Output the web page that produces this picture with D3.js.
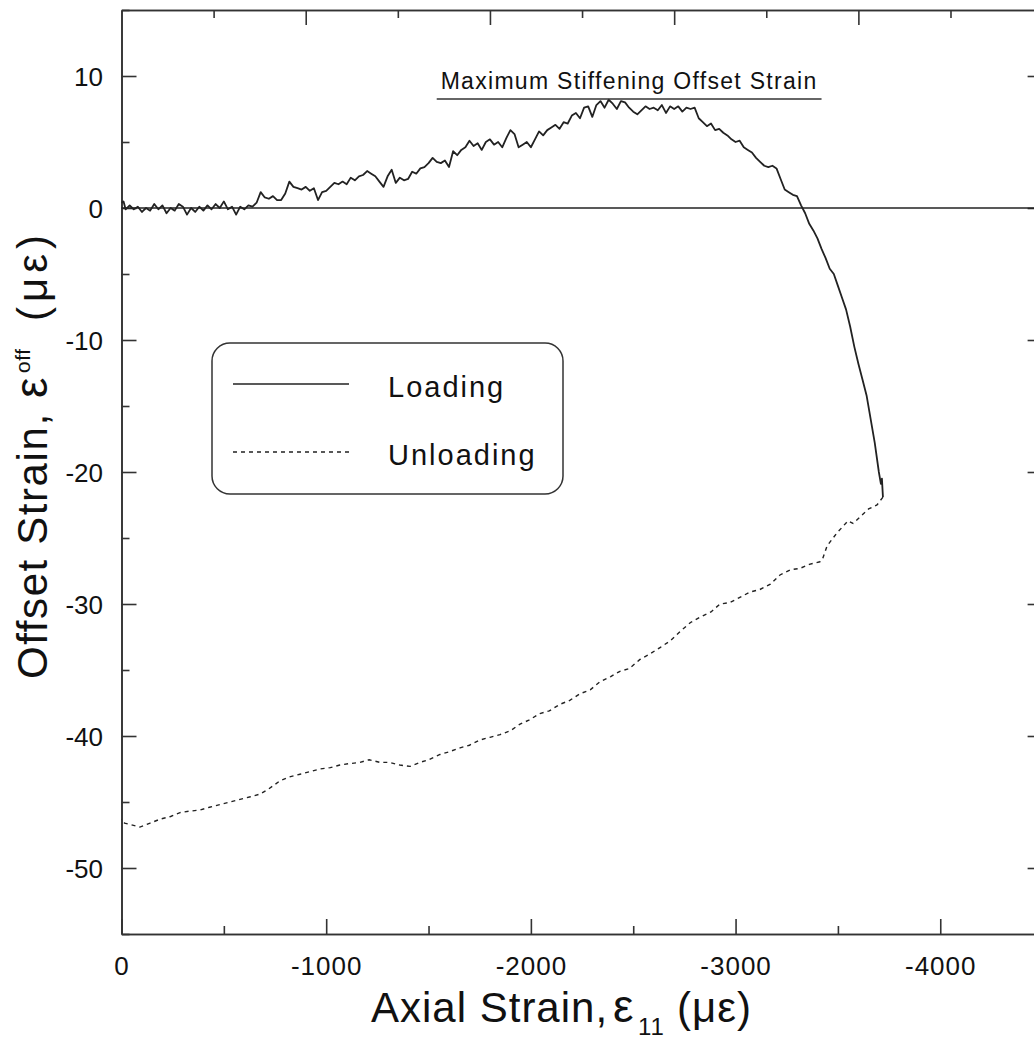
<!DOCTYPE html>
<html><head><meta charset="utf-8">
<script src="https://cdn.jsdelivr.net/npm/d3@7"></script>
<style>body{margin:0;background:#fff}svg{display:block;font-family:"Liberation Sans",Arial,sans-serif}</style>
</head><body><svg id="c" width="1034" height="1040"></svg>
<script>
const xTicksMajor=[0,-1000,-2000,-3000,-4000];
const xTicksMinor=[-500,-1500,-2500,-3500,-4500];
const yTicksMajor=[10,0,-10,-20,-30,-40,-50];
const yTicksMinor=[15,5,-5,-15,-25,-35,-45,-55];
const topTicksMajor=[1,2,3,4];
const topTicksMinor=[0.5,1.5,2.5,3.5,4.5];
const seriesNames=["Loading","Unloading"];
const annotationText="Maximum Stiffening Offset Strain";
const annotationLine=[[-1540,8.25],[-3420,8.25]];
const loading=[[0,0.4],[-10,0.5],[-20,-0.1],[-40,0.2],[-60,-0.1],[-80,0.1],[-100,-0.3],[-120,0.0],[-140,-0.2],[-160,0.3],[-180,-0.1],[-200,0.2],[-220,-0.4],[-240,0.0],[-260,-0.2],[-280,0.3],[-300,0.1],[-320,-0.5],[-340,0.0],[-360,-0.3],[-380,0.1],[-400,-0.2],[-420,0.2],[-440,-0.1],[-460,0.3],[-480,0.0],[-500,0.5],[-520,-0.1],[-540,0.1],[-560,-0.5],[-580,0.1],[-600,-0.1],[-620,0.2],[-640,0.1],[-660,0.4],[-680,1.2],[-700,0.8],[-720,0.7],[-740,0.9],[-760,0.6],[-780,0.6],[-800,1.1],[-820,2.0],[-840,1.6],[-860,1.5],[-880,1.4],[-900,1.6],[-920,1.3],[-940,1.5],[-960,0.6],[-980,1.2],[-1000,1.3],[-1020,1.6],[-1040,1.9],[-1060,1.8],[-1080,2.0],[-1100,1.8],[-1120,2.3],[-1140,2.1],[-1160,2.4],[-1180,2.5],[-1200,2.8],[-1220,2.6],[-1240,2.4],[-1260,2.0],[-1280,1.6],[-1300,2.4],[-1320,2.9],[-1340,1.9],[-1360,2.3],[-1380,2.1],[-1400,2.2],[-1420,2.75],[-1440,2.6],[-1460,3.0],[-1480,3.1],[-1500,3.4],[-1520,3.8],[-1540,3.5],[-1560,3.4],[-1580,3.6],[-1600,3.1],[-1620,4.3],[-1640,4.0],[-1660,4.4],[-1680,4.6],[-1700,5.1],[-1720,4.7],[-1740,4.9],[-1760,4.4],[-1780,5.0],[-1800,5.2],[-1820,4.8],[-1840,5.0],[-1860,4.6],[-1880,5.3],[-1900,5.9],[-1920,5.6],[-1940,4.6],[-1960,4.8],[-1980,5.0],[-2000,4.6],[-2020,5.2],[-2040,5.8],[-2060,5.5],[-2080,5.9],[-2100,6.1],[-2120,6.3],[-2140,6.0],[-2160,6.5],[-2180,6.4],[-2200,7.0],[-2220,7.2],[-2240,6.8],[-2260,7.6],[-2280,7.7],[-2300,6.9],[-2320,7.8],[-2340,8.1],[-2360,7.6],[-2380,8.2],[-2400,7.9],[-2420,7.5],[-2440,8.1],[-2460,8.0],[-2480,7.6],[-2500,7.3],[-2520,7.1],[-2540,7.4],[-2560,7.7],[-2580,7.5],[-2600,7.6],[-2620,7.4],[-2640,7.8],[-2660,7.2],[-2680,7.7],[-2700,7.5],[-2720,7.7],[-2740,7.3],[-2760,7.6],[-2780,7.5],[-2800,7.6],[-2820,6.8],[-2840,6.5],[-2860,6.2],[-2880,6.4],[-2900,5.9],[-2920,6.0],[-2940,5.7],[-2960,5.5],[-2980,5.2],[-3000,5.0],[-3020,5.1],[-3040,4.6],[-3060,4.4],[-3080,4.2],[-3100,3.8],[-3120,3.5],[-3140,3.2],[-3160,3.1],[-3180,3.2],[-3200,3.0],[-3220,2.2],[-3240,1.4],[-3260,1.2],[-3280,1.0],[-3300,0.9],[-3320,0.2],[-3340,-0.4],[-3360,-1.2],[-3380,-1.7],[-3400,-2.3],[-3420,-3.1],[-3440,-3.8],[-3460,-4.6],[-3480,-5.0],[-3500,-5.9],[-3520,-6.8],[-3540,-7.7],[-3560,-9.0],[-3580,-10.5],[-3600,-11.8],[-3620,-13.0],[-3640,-14.2],[-3660,-16.0],[-3680,-17.8],[-3700,-20.0],[-3710,-20.9],[-3715,-20.5],[-3720,-21.9]];
const unloading=[[-3720,-21.9],[-3691,-22.5],[-3650,-22.8],[-3622,-23.2],[-3574,-23.9],[-3549,-23.7],[-3520,-24.2],[-3496,-24.6],[-3447,-25.6],[-3425,-26.6],[-3412,-26.8],[-3360,-27.0],[-3315,-27.3],[-3270,-27.4],[-3217,-27.8],[-3170,-28.5],[-3119,-28.9],[-3070,-29.1],[-3021,-29.5],[-2970,-29.9],[-2924,-30.0],[-2880,-30.6],[-2826,-31.0],[-2780,-31.4],[-2728,-32.1],[-2680,-32.8],[-2631,-33.3],[-2580,-33.8],[-2533,-34.2],[-2480,-34.9],[-2435,-35.1],[-2390,-35.5],[-2337,-35.9],[-2290,-36.5],[-2240,-36.8],[-2190,-37.3],[-2142,-37.6],[-2090,-38.1],[-2044,-38.3],[-1990,-38.8],[-1947,-39.1],[-1900,-39.6],[-1849,-39.9],[-1800,-40.1],[-1751,-40.3],[-1700,-40.7],[-1654,-40.9],[-1600,-41.2],[-1556,-41.4],[-1500,-41.8],[-1458,-42.0],[-1410,-42.3],[-1360,-42.2],[-1310,-42.0],[-1263,-42.0],[-1210,-41.8],[-1165,-42.0],[-1110,-42.1],[-1067,-42.2],[-1020,-42.4],[-970,-42.5],[-920,-42.7],[-872,-42.9],[-820,-43.1],[-774,-43.4],[-720,-44.0],[-677,-44.4],[-630,-44.6],[-579,-44.8],[-530,-45.0],[-481,-45.2],[-430,-45.4],[-384,-45.6],[-330,-45.7],[-286,-45.8],[-240,-46.1],[-188,-46.3],[-140,-46.6],[-90,-46.9],[-42,-46.7],[-15,-46.6],[0,-46.3]];

const svg=d3.select("#c");
const ink="#222", axc="#333";
const x=d3.scaleLinear().domain([0,-4500]).range([121.5,1042.6]);
const y=d3.scaleLinear().domain([-55,15]).range([934,10]);
const xt=d3.scaleLinear().domain([0,5]).range(x.range());
const [L,R]=x.range(), [B,T]=y.range();
const fmt=d=>String(d);

function styleAxis(g){g.select(".domain").attr("stroke",axc).attr("stroke-width",1.6);g.selectAll(".tick line").attr("stroke",axc).attr("stroke-width",1.6);g.selectAll("text").attr("fill","#111");}

// bottom
svg.append("g").attr("transform",`translate(0,${B})`).call(d3.axisBottom(x).tickValues(xTicksMajor).tickSize(-15).tickSizeOuter(0).tickPadding(22.5).tickFormat(fmt))
 .call(styleAxis).call(g=>g.selectAll("text").attr("font-size",26).attr("letter-spacing","1px").attr("font-family","Liberation Sans, Arial"));
svg.append("g").attr("transform",`translate(0,${B})`).call(d3.axisBottom(x).tickValues(xTicksMinor).tickSize(-8).tickSizeOuter(0).tickFormat("")).call(styleAxis);
// top
svg.append("g").attr("transform",`translate(0,${T})`).call(d3.axisTop(xt).tickValues(topTicksMajor).tickSize(-15).tickSizeOuter(0).tickFormat("")).call(styleAxis);
svg.append("g").attr("transform",`translate(0,${T})`).call(d3.axisTop(xt).tickValues(topTicksMinor).tickSize(-8).tickSizeOuter(0).tickFormat("")).call(styleAxis);
// left
svg.append("g").attr("transform",`translate(${L},0)`).call(d3.axisLeft(y).tickValues(yTicksMajor).tickSize(-15).tickSizeOuter(0).tickPadding(18.5).tickFormat(fmt))
 .call(styleAxis).call(g=>g.selectAll("text").attr("font-size",26).attr("dy","0.37em").attr("font-family","Liberation Sans, Arial"));
svg.append("g").attr("transform",`translate(${L},0)`).call(d3.axisLeft(y).tickValues(yTicksMinor).tickSize(-8).tickSizeOuter(0).tickFormat("")).call(styleAxis);
// right
svg.append("g").attr("transform",`translate(${R},0)`).call(d3.axisRight(y).tickValues(yTicksMajor).tickSize(-15).tickSizeOuter(0).tickFormat("")).call(styleAxis);
svg.append("g").attr("transform",`translate(${R},0)`).call(d3.axisRight(y).tickValues(yTicksMinor).tickSize(-8).tickSizeOuter(0).tickFormat("")).call(styleAxis);

// zero line
svg.append("line").attr("x1",L).attr("x2",R).attr("y1",y(0)).attr("y2",y(0)).attr("stroke",ink).attr("stroke-width",1.5);

const line=d3.line().x(d=>x(d[0])).y(d=>y(d[1]));
svg.append("path").datum(loading).attr("d",line).attr("fill","none").attr("stroke",ink).attr("stroke-width",1.8).attr("stroke-linejoin","round");
svg.append("path").datum(unloading).attr("d",line).attr("fill","none").attr("stroke",ink).attr("stroke-width",1.4).attr("stroke-dasharray","4,4");

// annotation
svg.append("path").datum(annotationLine).attr("d",line).attr("stroke",axc).attr("stroke-width",1.5);
svg.append("text").attr("x",(x(annotationLine[0][0])+x(annotationLine[1][0]))/2).attr("y",88.5).attr("text-anchor","middle")
 .attr("font-size",23).attr("letter-spacing","1.3px").attr("fill","#111").text(annotationText);

// legend
svg.append("rect").attr("x",212).attr("y",343).attr("width",351).attr("height",151).attr("rx",18).attr("fill","#fff").attr("stroke",axc).attr("stroke-width",1.5);
svg.append("line").attr("x1",233).attr("x2",349).attr("y1",384).attr("y2",384).attr("stroke",ink).attr("stroke-width",1.5);
svg.append("line").attr("x1",233).attr("x2",349).attr("y1",452).attr("y2",452).attr("stroke",ink).attr("stroke-width",1.4).attr("stroke-dasharray","4,4");
svg.append("text").attr("x",388).attr("y",397).attr("font-size",29).attr("letter-spacing","2px").attr("fill","#111").text(seriesNames[0]);
svg.append("text").attr("x",388).attr("y",465).attr("font-size",29).attr("letter-spacing","2px").attr("fill","#111").text(seriesNames[1]);

// x title
const xTitle=svg.append("g").attr("fill","#111");
xTitle.append("text").attr("x",371).attr("y",1022).attr("font-size",42).attr("letter-spacing","1px").text("Axial Strain,");
xTitle.append("text").attr("x",613).attr("y",1022).attr("font-size",46).text("ε");
xTitle.append("text").attr("x",638).attr("y",1035).attr("font-size",24).attr("letter-spacing","1px").text("11");
xTitle.append("text").attr("x",677).attr("y",1022).attr("font-size",42).attr("letter-spacing","1px").text("(με)");
// y title (rotated)
const yTitle=svg.append("g").attr("fill","#111");
yTitle.append("text").attr("transform","translate(47,679) rotate(-90)").attr("font-size",42).attr("letter-spacing","1.6px").text("Offset Strain,");
yTitle.append("text").attr("transform","translate(47,398) rotate(-90)").attr("font-size",46).text("ε");
yTitle.append("text").attr("transform","translate(30,373) rotate(-90)").attr("font-size",21).attr("letter-spacing","0.5px").text("off");
yTitle.append("text").attr("transform","translate(47,321) rotate(-90)").attr("font-size",42).attr("letter-spacing","5px").text("(με)");
</script></body></html>
